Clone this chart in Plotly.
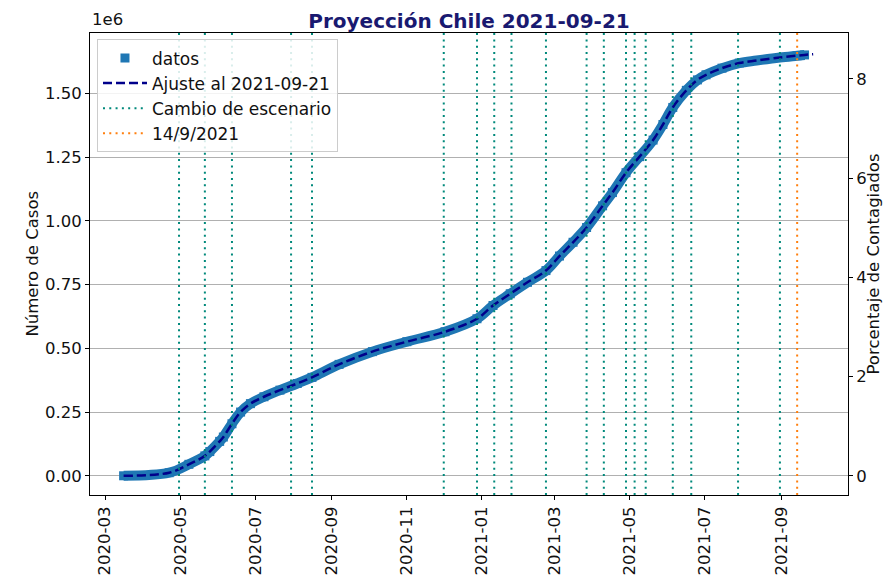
import plotly.graph_objects as go

FONT = "DejaVu Sans, Liberation Sans, sans-serif"
AZUL = "#1f77b4"
AJUSTE = "#00008B"
TEAL = "#00897B"
NARANJA = "#ff7f0e"
GRID = "#b0b0b0"

POBLACION = 19458310

# datos (casos acumulados, en millones)
fechas = [
    "2020-03-16", "2020-04-22", "2020-05-08", "2020-05-21", "2020-05-25",
    "2020-06-02", "2020-06-05", "2020-06-12", "2020-06-19", "2020-06-27",
    "2020-07-08", "2020-07-21", "2020-08-04", "2020-08-16", "2020-09-07",
    "2020-10-04", "2020-11-01", "2020-12-02", "2020-12-28", "2021-01-10",
    "2021-01-24", "2021-02-07", "2021-02-22", "2021-03-05", "2021-03-16",
    "2021-03-27", "2021-04-09", "2021-04-17", "2021-04-28", "2021-05-09",
    "2021-05-20", "2021-05-28", "2021-06-05", "2021-06-16", "2021-06-25",
    "2021-07-02", "2021-07-15", "2021-07-29", "2021-08-12", "2021-08-31",
    "2021-09-14", "2021-09-20",
]
casos = [
    0.0, 0.012, 0.045, 0.078, 0.095,
    0.135, 0.152, 0.204, 0.25, 0.283,
    0.31, 0.336, 0.362, 0.386, 0.437,
    0.487, 0.526, 0.565, 0.616, 0.668,
    0.714, 0.759, 0.805, 0.862, 0.916,
    0.974, 1.059, 1.111, 1.189, 1.252,
    1.317, 1.378, 1.445, 1.512, 1.553,
    1.573, 1.599, 1.619, 1.629, 1.641,
    1.648, 1.651,
]

# ajuste del modelo
fechas_ajuste = fechas + ["2021-09-27"]
casos_ajuste = casos + [1.654]

cambios_escenario = [
    "2020-04-30", "2020-05-21", "2020-06-12", "2020-07-30", "2020-08-16",
    "2020-12-01", "2020-12-28", "2021-01-11", "2021-01-25", "2021-02-22",
    "2021-03-27", "2021-04-10", "2021-04-28", "2021-05-05", "2021-05-14",
    "2021-06-05", "2021-06-20", "2021-07-28", "2021-08-31",
]
fecha_corte = "2021-09-14"

y_ticks = [0.0, 0.25, 0.5, 0.75, 1.0, 1.25, 1.5]
y_ticktext = ["0.00", "0.25", "0.50", "0.75", "1.00", "1.25", "1.50"]
y_rango = [-0.0754, 1.737]

x_rango = ["2020-02-17 17:00", "2021-10-25 07:00"]

escala = 1e6
FS = 16.5
DOT = "2px,4.3px"

fig = go.Figure()

fig.add_trace(go.Scatter(
    x=fechas, y=[c * escala for c in casos],
    mode="lines", line=dict(color=AZUL, width=10, shape="spline", smoothing=1.0),
    showlegend=False, legendgroup="datos", hoverinfo="skip",
))
fig.add_trace(go.Scatter(
    x=fechas, y=[c * escala for c in casos],
    mode="markers", name="datos", legendgroup="datos",
    marker=dict(symbol="square", size=9, color=AZUL),
))
fig.add_trace(go.Scatter(
    x=fechas_ajuste, y=[c * escala for c in casos_ajuste],
    mode="lines", name="Ajuste al 2021-09-21",
    line=dict(color=AJUSTE, width=2.5, dash="9px,4px", shape="spline", smoothing=1.0),
))
fig.add_trace(go.Scatter(
    x=[None], y=[None], yaxis="y2", mode="lines", name="Cambio de escenario",
    line=dict(color=TEAL, width=2, dash=DOT),
))
fig.add_trace(go.Scatter(
    x=[None], y=[None], yaxis="y2", mode="lines", name="14/9/2021",
    line=dict(color=NARANJA, width=2, dash=DOT),
))

for f in cambios_escenario:
    fig.add_shape(type="line", xref="x", yref="paper", x0=f, x1=f, y0=0, y1=1,
                  line=dict(color=TEAL, width=2, dash=DOT), layer="above")
fig.add_shape(type="line", xref="x", yref="paper", x0=fecha_corte, x1=fecha_corte,
              y0=0, y1=1, line=dict(color=NARANJA, width=2, dash=DOT), layer="above")

axis_common = dict(
    showline=True, linecolor="black", linewidth=1,
    ticks="outside", ticklen=4, tickcolor="black",
    tickfont=dict(size=FS, color="#111111"),
)

fig.update_layout(
    width=885, height=580,
    paper_bgcolor="white", plot_bgcolor="white",
    font=dict(family=FONT, size=FS, color="#111111"),
    margin=dict(l=82, r=45, t=25, b=91),
    title=dict(
        text="<b>Proyección Chile 2021-09-21</b>",
        font=dict(size=20, color="#191970"),
        x=0.5, xref="paper", xanchor="center",
        y=1 - 13 / 580, yref="container", yanchor="middle",
    ),
    xaxis=dict(
        **axis_common, mirror=True, type="date", range=x_rango,
        tickformat="%Y-%m", dtick="M2", tick0="2020-03-01",
        tickangle=-90, showgrid=False, zeroline=False,
    ),
    yaxis=dict(
        **axis_common, mirror=True, range=[y_rango[0] * escala, y_rango[1] * escala],
        tickvals=[v * escala for v in y_ticks], ticktext=y_ticktext,
        showgrid=True, gridcolor=GRID, gridwidth=1, zeroline=False,
    ),
    yaxis2=dict(
        **axis_common, overlaying="y", side="right",
        range=[y_rango[0] * escala / POBLACION * 100, y_rango[1] * escala / POBLACION * 100],
        tick0=0, dtick=2, showgrid=False, zeroline=False,
    ),
    legend=dict(
        x=0.0092, y=0.986, xanchor="left", yanchor="top",
        bgcolor="rgba(255,255,255,0.85)", bordercolor="#cccccc", borderwidth=1,
        font=dict(size=17, color="#111111"), tracegroupgap=0, itemwidth=44,
    ),
    annotations=[
        dict(text="1e6", xref="paper", yref="paper", x=0, y=1,
             xanchor="left", yanchor="bottom", yshift=2, showarrow=False,
             font=dict(size=FS)),
        dict(text="Número de Casos", xref="paper", yref="paper", x=0, y=0.5,
             xshift=-70, textangle=-90, showarrow=False, font=dict(size=FS)),
        dict(text="Porcentaje de Contagiados", xref="paper", yref="paper", x=1, y=0.5,
             xshift=36, textangle=-90, showarrow=False, font=dict(size=FS)),
    ],
    showlegend=True,
)

fig.write_html("out.html")
